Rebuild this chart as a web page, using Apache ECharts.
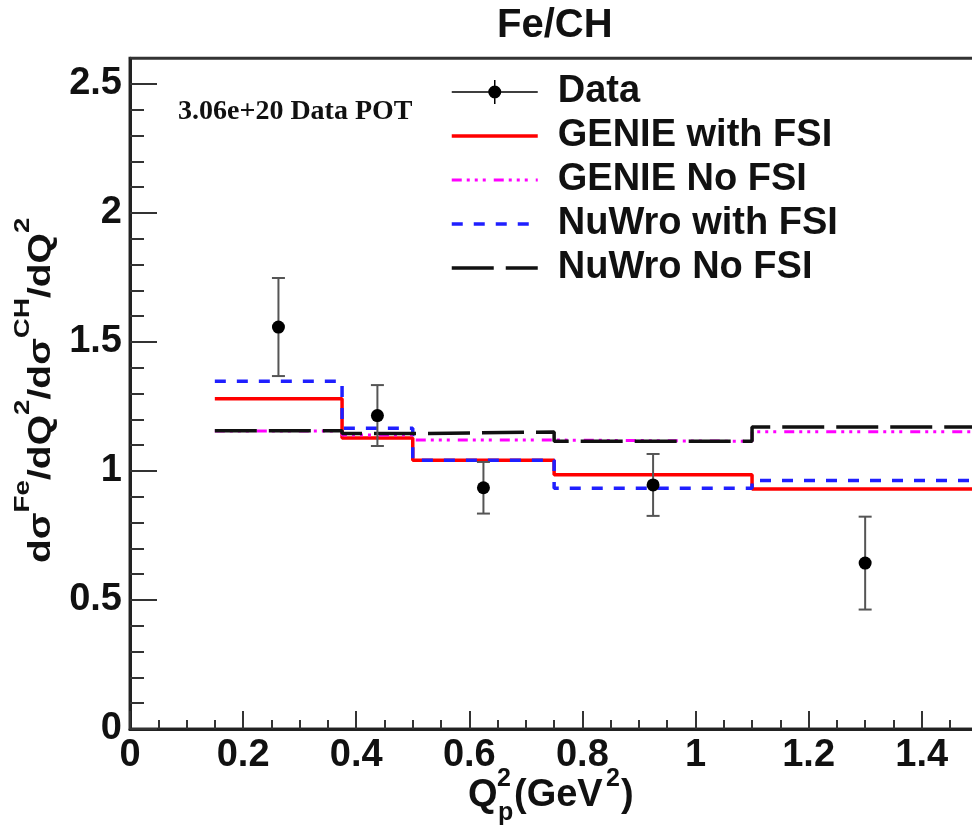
<!DOCTYPE html>
<html>
<head>
<meta charset="utf-8">
<script src="https://cdn.jsdelivr.net/npm/echarts@6/dist/echarts.min.js"></script>
<style>
  html, body { margin: 0; padding: 0; background: #fff; }
  #chart { width: 972px; height: 826px; }
</style>
</head>
<body>
<div id="chart"></div>
<script>
// Q^2 bin edges (GeV^2) of the model histograms
const binEdges = [0.15, 0.375, 0.5, 0.75, 1.1, 1.5];

// Fe/CH cross-section ratio per bin for each generator
const genieWithFSI = [1.28, 1.128, 1.042, 0.985, 0.93];
const genieNoFSI   = [1.155, 1.14, 1.12, 1.115, 1.152];
const nuwroWithFSI = [1.348, 1.166, 1.042, 0.933, 0.963];
const nuwroNoFSI   = [1.156, 1.145, 1.151, 1.115, 1.171];

// Measured ratio with its uncertainty
const dataX   = [0.2625, 0.4375, 0.625, 0.925, 1.3];
const dataY   = [1.558, 1.215, 0.935, 0.946, 0.643];
const dataErr = [0.19, 0.118, 0.1, 0.12, 0.18];

// Axis ranges and tick spacing
const xRange = [0, 1.6];
const yRange = [0, 2.6];
const xMajor = 0.2, xMinor = 0.05;
const yMajor = 0.5, yMinor = 0.1;

const seriesNames = ['Data', 'GENIE with FSI', 'GENIE No FSI', 'NuWro with FSI', 'NuWro No FSI'];

// histogram outline: one point per bin edge, the last bin held to the upper edge
function histPoints(values) {
  return binEdges.map((e, i) => [e, values[Math.min(i, values.length - 1)]]);
}

const FONT = '"Liberation Sans", Arial, Helvetica, sans-serif';
const AXIS_COLOR = '#222';

// legend glyph for the data entry: horizontal bar, marker and error tick
const dataIcon = 'path://M0 11.25H86V12.75H0Z M42.25 0H43.75V24H42.25Z M36.5 12A6.5 6.5 0 1 1 49.5 12A6.5 6.5 0 1 1 36.5 12Z';

function stepSeries(name, values, color, width, dash, z) {
  return {
    name: name,
    type: 'line',
    step: 'end',
    data: histPoints(values),
    symbol: 'none',
    z: z,
    silent: true,
    lineStyle: { color: color, width: width, type: dash, cap: 'butt' },
    itemStyle: { color: color }
  };
}

// legend entry for a histogram: line only, no marker
function lineLegend(name, width) {
  return { name: name, itemStyle: { opacity: 0 }, lineStyle: { width: width } };
}

const chart = echarts.init(document.getElementById('chart'), null, { renderer: 'canvas' });

const option = {
  animation: false,
  backgroundColor: '#fff',
  title: {
    text: 'Fe/CH',
    left: 497,
    top: 6,
    padding: 0,
    textStyle: { fontFamily: FONT, fontWeight: 'bold', fontSize: 40, color: '#111' }
  },
  grid: {
    left: 130,
    top: 58.2,
    width: 904.8,
    height: 670.8,
    show: true,
    borderColor: '#333',
    borderWidth: 3,
    backgroundColor: 'transparent',
    outerBoundsMode: 'none'
  },
  legend: {
    orient: 'vertical',
    left: 450,
    top: 70,
    padding: 0,
    itemGap: 0,
    itemWidth: 86,
    itemHeight: 24,
    selectedMode: false,
    textStyle: {
      fontFamily: FONT, fontWeight: 'bold', fontSize: 38, color: '#111',
      lineHeight: 44, padding: [0, 0, 0, 15]
    },
    data: [
      { name: seriesNames[0], icon: dataIcon },
      lineLegend(seriesNames[1], 3.5),
      lineLegend(seriesNames[2], 3),
      lineLegend(seriesNames[3], 3.5),
      lineLegend(seriesNames[4], 3.5)
    ]
  },
  xAxis: [
    {
      type: 'value', min: xRange[0], max: xRange[1], interval: xMajor,
      position: 'bottom',
      axisLine: { show: true, onZero: false, lineStyle: { color: AXIS_COLOR, width: 3 } },
      axisTick: { show: true, inside: true, length: 18, lineStyle: { color: '#333', width: 2 } },
      axisLabel: {
        show: true, margin: 8, showMaxLabel: false,
        fontFamily: FONT, fontWeight: 'bold', fontSize: 38, color: '#111'
      },
      splitLine: { show: false }
    },
    {
      type: 'value', min: xRange[0], max: xRange[1], interval: xMinor,
      position: 'bottom',
      axisLine: { show: false, onZero: false },
      axisTick: { show: true, inside: true, length: 9, lineStyle: { color: '#333', width: 2 } },
      axisLabel: { show: false },
      splitLine: { show: false }
    }
  ],
  yAxis: [
    {
      type: 'value', min: yRange[0], max: yRange[1], interval: yMajor,
      position: 'left',
      axisLine: { show: true, onZero: false, lineStyle: { color: AXIS_COLOR, width: 3 } },
      axisTick: { show: true, inside: true, length: 27, lineStyle: { color: '#333', width: 2 } },
      axisLabel: {
        show: true, margin: 8, showMaxLabel: false,
        fontFamily: FONT, fontWeight: 'bold', fontSize: 38, color: '#111'
      },
      splitLine: { show: false }
    },
    {
      type: 'value', min: yRange[0], max: yRange[1], interval: yMinor,
      position: 'left',
      axisLine: { show: false, onZero: false },
      axisTick: { show: true, inside: true, length: 14, lineStyle: { color: '#333', width: 2 } },
      axisLabel: { show: false },
      splitLine: { show: false }
    }
  ],
  graphic: [
    {
      type: 'text', x: 178, y: 112, silent: true,
      style: {
        text: '3.06e+20 Data POT', fill: '#111',
        font: 'bold 28px "Liberation Serif", "Times New Roman", serif',
        align: 'left', verticalAlign: 'middle'
      }
    },
    // y-axis title, read bottom to top
    {
      type: 'text', x: 41, y: 563, rotation: Math.PI / 2, scaleX: 1.26, silent: true,
      style: {
        text: '{m|dσ}{s|Fe}{m|/dQ}{s|2}{m|/dσ}{s|CH}{m|/dQ}{s|2}',
        align: 'left', verticalAlign: 'middle', fill: '#111',
        rich: {
          m: { fontFamily: FONT, fontWeight: 'bold', fontSize: 31, lineHeight: 58, verticalAlign: 'middle', fill: '#111' },
          s: { fontFamily: FONT, fontWeight: 'bold', fontSize: 22, lineHeight: 22, verticalAlign: 'top', fill: '#111' }
        }
      }
    },
    // x-axis title Q_p^2(GeV^2)
    { type: 'text', x: 468, y: 796, silent: true,
      style: { text: 'Q', font: 'bold 38px ' + FONT, fill: '#111', align: 'left', verticalAlign: 'middle' } },
    { type: 'text', x: 497, y: 779, silent: true,
      style: { text: '2', font: 'bold 25px ' + FONT, fill: '#111', align: 'left', verticalAlign: 'middle' } },
    { type: 'text', x: 498, y: 813, silent: true,
      style: { text: 'p', font: 'bold 25px ' + FONT, fill: '#111', align: 'left', verticalAlign: 'middle' } },
    { type: 'text', x: 514, y: 796, silent: true,
      style: { text: '(GeV', font: 'bold 38px ' + FONT, fill: '#111', align: 'left', verticalAlign: 'middle' } },
    { type: 'text', x: 606, y: 779, silent: true,
      style: { text: '2', font: 'bold 25px ' + FONT, fill: '#111', align: 'left', verticalAlign: 'middle' } },
    { type: 'text', x: 621, y: 796, silent: true,
      style: { text: ')', font: 'bold 38px ' + FONT, fill: '#111', align: 'left', verticalAlign: 'middle' } }
  ],
  series: [
    stepSeries(seriesNames[1], genieWithFSI, '#ff0000', 3.5, 'solid', 2),
    stepSeries(seriesNames[3], nuwroWithFSI, '#1f1fff', 3.5, [11, 11], 3),
    stepSeries(seriesNames[2], genieNoFSI, '#ff00ff', 3, [10, 5, 3, 5, 3, 5, 3, 8], 4),
    stepSeries(seriesNames[4], nuwroNoFSI, '#111111', 3.5, [42, 12], 5),
    {
      name: 'Data error',
      type: 'custom',
      z: 6,
      silent: true,
      data: dataX.map((x, i) => [x, dataY[i] - dataErr[i], dataY[i] + dataErr[i]]),
      renderItem: function (params, api) {
        const lo = api.coord([api.value(0), api.value(1)]);
        const hi = api.coord([api.value(0), api.value(2)]);
        const cap = 6.5;
        const st = { stroke: '#555', lineWidth: 2 };
        return {
          type: 'group',
          children: [
            { type: 'line', shape: { x1: lo[0], y1: lo[1], x2: hi[0], y2: hi[1] }, style: st },
            { type: 'line', shape: { x1: lo[0] - cap, y1: lo[1], x2: lo[0] + cap, y2: lo[1] }, style: st },
            { type: 'line', shape: { x1: hi[0] - cap, y1: hi[1], x2: hi[0] + cap, y2: hi[1] }, style: st }
          ]
        };
      }
    },
    {
      name: seriesNames[0],
      type: 'scatter',
      z: 7,
      silent: true,
      symbol: 'circle',
      symbolSize: 13,
      itemStyle: { color: '#000', opacity: 1 },
      data: dataX.map((x, i) => [x, dataY[i]])
    }
  ]
};

chart.setOption(option);
</script>
</body>
</html>
